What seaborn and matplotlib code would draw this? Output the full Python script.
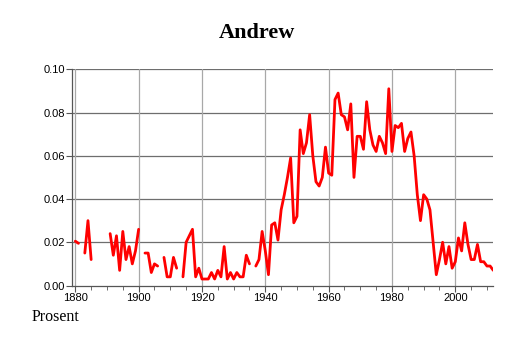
import numpy as np
import pandas as pd
import matplotlib
matplotlib.use("Agg")
import matplotlib.pyplot as plt
from matplotlib.ticker import MultipleLocator, FormatStrFormatter
import seaborn as sns

nan = np.nan
years = list(range(1880, 2013))
values = [
    0.0205, 0.0195, nan, 0.015, 0.030, 0.012, nan, nan, nan, nan,
    nan, 0.024, 0.014, 0.023, 0.007, 0.025, 0.012, 0.018, 0.010, 0.016,
    0.026, nan, 0.015, 0.015, 0.006, 0.010, 0.009, nan, 0.013, 0.004,
    0.004, 0.013, 0.008, nan, 0.004, 0.020, 0.023, 0.026, 0.004, 0.008,
    0.003, 0.003, 0.003, 0.006, 0.003, 0.007, 0.004, 0.018, 0.003, 0.006,
    0.003, 0.006, 0.004, 0.004, 0.014, 0.010, nan, 0.009, 0.012, 0.025,
    0.016, 0.005, 0.028, 0.029, 0.021, 0.035, 0.042, 0.050, 0.059, 0.029,
    0.032, 0.072, 0.061, 0.066, 0.079, 0.060, 0.048, 0.046, 0.050, 0.064,
    0.052, 0.051, 0.086, 0.089, 0.079, 0.078, 0.072, 0.084, 0.050, 0.069,
    0.069, 0.063, 0.085, 0.072, 0.065, 0.062, 0.069, 0.066, 0.061, 0.091,
    0.062, 0.074, 0.073, 0.075, 0.062, 0.068, 0.071, 0.060, 0.042, 0.030,
    0.042, 0.040, 0.035, 0.020, 0.005, 0.012, 0.020, 0.010, 0.018, 0.008,
    0.011, 0.022, 0.016, 0.029, 0.019, 0.012, 0.012, 0.019, 0.011, 0.011,
    0.009, 0.009, 0.007,
]
title = "Andrew"
ylabel_text = "Prosent"

df = pd.DataFrame({"year": years, "value": values})
df = df.dropna().reset_index(drop=True)
df["seg"] = (df["year"].diff() != 1).cumsum()

sns.set_style("white")
plt.rcParams["font.family"] = ["Liberation Sans", "DejaVu Sans"]
plt.rcParams["text.color"] = "black"
plt.rcParams["xtick.labelcolor"] = "black"
plt.rcParams["ytick.labelcolor"] = "black"

fig = plt.figure(figsize=(5.14, 3.43), dpi=100)
ax = fig.add_axes([72.3 / 514, 1 - 285.5 / 343, (493.3 - 72.3) / 514, (285.5 - 69.3) / 343])

ax.set_xlim(1879.05, 2012.0)
ax.set_ylim(0, 0.10)

ax.xaxis.set_major_locator(MultipleLocator(20))
ax.xaxis.set_minor_locator(MultipleLocator(5))
ax.yaxis.set_major_locator(MultipleLocator(0.02))
ax.yaxis.set_major_formatter(FormatStrFormatter("%.2f"))

ax.grid(False)
for yv in np.arange(0.02, 0.101, 0.02):
    ax.axhline(yv, color="#6e6e6e", lw=0.9, zorder=1)
for xv in range(1880, 2012, 20):
    ax.axvline(xv, color="#a8a8a8", lw=0.9, zorder=1)

sns.lineplot(data=df, x="year", y="value", units="seg", estimator=None,
             color="#ff0000", lw=2.0, ax=ax, legend=False, zorder=3)

ax.set_xlabel("")
ax.set_ylabel("")
for s in ["top", "right"]:
    ax.spines[s].set_visible(False)
for s in ["left", "bottom"]:
    ax.spines[s].set_color("#555555")
    ax.spines[s].set_linewidth(0.9)

ax.tick_params(axis="both", which="both", direction="out", color="#555555",
               labelcolor="black", labelsize=8, pad=1.5, bottom=True, left=True)
ax.tick_params(axis="x", which="major", length=4)
ax.tick_params(axis="x", which="minor", length=3)
ax.tick_params(axis="y", which="major", length=4)

fig.text(0.5, 1 - 33 / 343, title, ha="center", va="center", color="black",
         fontsize=16, fontweight="bold", family=["Liberation Serif", "DejaVu Serif"])
fig.text(31.7 / 514, 1 - 317 / 343, ylabel_text, ha="left", va="center", color="black",
         fontsize=11.5, family=["Liberation Serif", "DejaVu Serif"])

fig.savefig("out.png", dpi=100, facecolor="white")
